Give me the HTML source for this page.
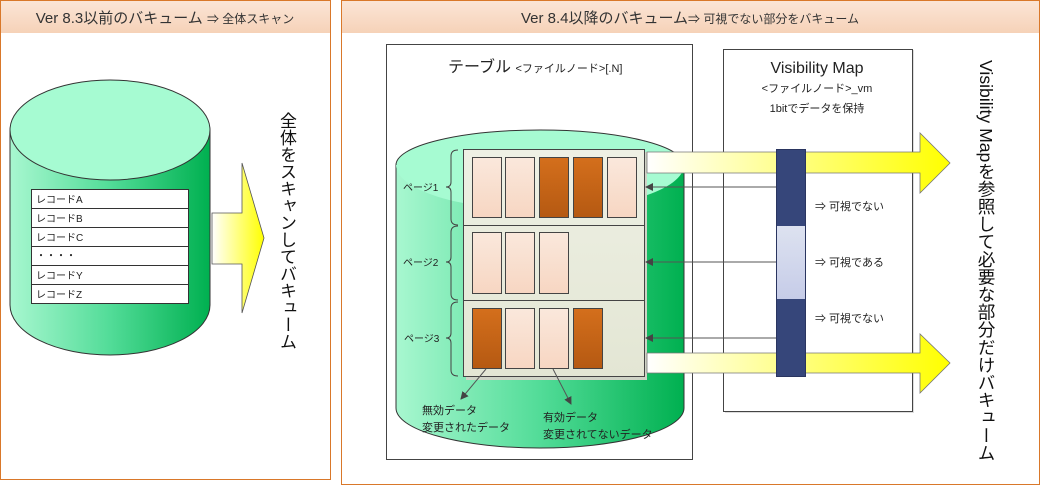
<!DOCTYPE html>
<html><head><meta charset="utf-8"><style>
body{margin:0;width:1047px;height:489px;background:#fff;position:relative;overflow:hidden;font-family:"Liberation Sans","Noto Sans CJK JP",sans-serif}
svg{position:absolute;left:0;top:0}
.v{position:absolute;writing-mode:vertical-rl;font-family:"Liberation Sans","Noto Sans CJK JP",sans-serif;color:#111;white-space:nowrap}
</style></head><body>
<svg width="1047" height="489" viewBox="0 0 1047 489" font-family="Liberation Sans, Noto Sans CJK JP, sans-serif">
<defs>
<linearGradient id="hd" x1="0" y1="0" x2="0" y2="1"><stop offset="0" stop-color="#fbe5d6"/><stop offset="1" stop-color="#f6d2b8"/></linearGradient>
<linearGradient id="cy" x1="0" y1="0" x2="1" y2="0"><stop offset="0" stop-color="#a8f7d0"/><stop offset="0.5" stop-color="#52dc98"/><stop offset="1" stop-color="#00b050"/></linearGradient>
<linearGradient id="ya" x1="0" y1="0" x2="1" y2="0"><stop offset="0" stop-color="#ffffff"/><stop offset="1" stop-color="#ffff00"/></linearGradient>
<linearGradient id="lc" x1="0" y1="0" x2="0" y2="1"><stop offset="0" stop-color="#fae8dc"/><stop offset="1" stop-color="#f7d6c2"/></linearGradient>
<linearGradient id="dc" x1="0" y1="0" x2="0" y2="1"><stop offset="0" stop-color="#d46f1c"/><stop offset="1" stop-color="#b55912"/></linearGradient>
<linearGradient id="pg" x1="0" y1="0" x2="0" y2="1"><stop offset="0" stop-color="#eef0e4"/><stop offset="1" stop-color="#e3e6d4"/></linearGradient>
<linearGradient id="lb" x1="0" y1="0" x2="0" y2="1"><stop offset="0" stop-color="#dde2f0"/><stop offset="1" stop-color="#c6cce8"/></linearGradient>
<marker id="ah" markerWidth="8" markerHeight="8" refX="7" refY="4" orient="auto" markerUnits="userSpaceOnUse"><path d="M0,0 L8,4 L0,8 Z" fill="#444"/></marker>
</defs>
<rect x="0.5" y="0.5" width="330" height="479" fill="#fff" stroke="#d9782a"/>
<rect x="1" y="1" width="329" height="32" fill="url(#hd)"/>
<text x="165" y="23" text-anchor="middle" font-size="15" fill="#333">Ver 8.3以前のバキューム <tspan font-size="12">⇒ 全体スキャン</tspan></text>
<path d="M10,130 L10,305 A100,50 0 0 0 210,305 L210,130 Z" fill="url(#cy)" stroke="#333"/>
<ellipse cx="110" cy="130" rx="100" ry="50" fill="#a6fbd2" stroke="#333"/>
<g font-size="10" fill="#222">
<rect x="31.5" y="189.5" width="157" height="114" fill="#fff" stroke="#333"/>
<line x1="31" y1="208.5" x2="188" y2="208.5" stroke="#333"/><line x1="31" y1="227.5" x2="188" y2="227.5" stroke="#333"/><line x1="31" y1="246.5" x2="188" y2="246.5" stroke="#333"/><line x1="31" y1="265.5" x2="188" y2="265.5" stroke="#333"/><line x1="31" y1="284.5" x2="188" y2="284.5" stroke="#333"/>
<text x="36" y="203">レコードA</text><text x="36" y="222">レコードB</text><text x="36" y="241">レコードC</text><text x="36" y="259">・・・・</text><text x="36" y="279">レコードY</text><text x="36" y="298">レコードZ</text>
</g>
<path d="M212,213 L242,213 L242,163 L264,238 L242,313 L242,264 L212,264 Z" fill="url(#ya)" stroke="#555" stroke-width="0.8"/>
<rect x="341.5" y="0.5" width="698" height="484" fill="#fff" stroke="#d9782a"/>
<rect x="342" y="1" width="697" height="32" fill="url(#hd)"/>
<text x="690" y="23" text-anchor="middle" font-size="15" fill="#333">Ver 8.4以降のバキューム<tspan font-size="12">⇒ 可視でない部分をバキューム</tspan></text>
<rect x="386.5" y="44.5" width="306" height="415" fill="#fff" stroke="#444"/>
<text x="448" y="72" font-size="16" fill="#222">テーブル <tspan font-size="11">&lt;ファイルノード&gt;[.N]</tspan></text>
<path d="M396,165 L396,408 A144,40 0 0 0 684,408 L684,165 Z" fill="url(#cy)" stroke="#333"/>
<path d="M396,165 A144,35 0 0 1 684,165 A144,45 0 0 1 396,165Z" fill="#a6fbd2"/>
<path d="M396,165 A144,35 0 0 1 684,165" fill="none" stroke="#333"/>
<rect x="725" y="50" width="189" height="363" fill="#ddd"/>
<rect x="723.5" y="49.5" width="189" height="362" fill="#fff" stroke="#444"/>
<text x="817" y="73" text-anchor="middle" font-size="16" fill="#222">Visibility Map</text>
<text x="817" y="92" text-anchor="middle" font-size="11" fill="#222">&lt;ファイルノード&gt;_vm</text>
<text x="817" y="112" text-anchor="middle" font-size="11" fill="#222">1bitでデータを保持</text>
<rect x="466" y="152" width="181" height="228" fill="#cfd3c6"/>
<rect x="463.5" y="149.5" width="181" height="227" fill="url(#pg)" stroke="#444"/>
<line x1="463" y1="225.5" x2="644" y2="225.5" stroke="#444"/><line x1="463" y1="300.5" x2="644" y2="300.5" stroke="#444"/>
<g stroke="#444">
<rect x="472.5" y="157.5" width="29" height="60" fill="url(#lc)"/><rect x="505.5" y="157.5" width="29" height="60" fill="url(#lc)"/><rect x="539.5" y="157.5" width="29" height="60" fill="url(#dc)"/><rect x="573.5" y="157.5" width="29" height="60" fill="url(#dc)"/><rect x="607.5" y="157.5" width="29" height="60" fill="url(#lc)"/>
<rect x="472.5" y="232.5" width="29" height="61" fill="url(#lc)"/><rect x="505.5" y="232.5" width="29" height="61" fill="url(#lc)"/><rect x="539.5" y="232.5" width="29" height="61" fill="url(#lc)"/>
<rect x="472.5" y="308.5" width="29" height="60" fill="url(#dc)"/><rect x="505.5" y="308.5" width="29" height="60" fill="url(#lc)"/><rect x="539.5" y="308.5" width="29" height="60" fill="url(#lc)"/><rect x="573.5" y="308.5" width="29" height="60" fill="url(#dc)"/>
</g>
<g fill="none" stroke="#444">
<path d="M458,150 Q451,150 451,156 L451,182 Q451,187 446,187 Q451,187 451,192 L451,219 Q451,225 458,225"/>
<path d="M458,226 Q451,226 451,232 L451,257 Q451,262 446,262 Q451,262 451,267 L451,294 Q451,300 458,300"/>
<path d="M458,302 Q451,302 451,308 L451,333 Q451,338 446,338 Q451,338 451,343 L451,370 Q451,376 458,376"/>
</g>
<g font-size="10" fill="#222"><text x="403" y="191">ページ1</text><text x="403" y="266">ページ2</text><text x="404" y="342">ページ3</text></g>
<line x1="486" y1="369" x2="461" y2="399" stroke="#555" marker-end="url(#ah)"/>
<line x1="553" y1="369" x2="571" y2="404" stroke="#555" marker-end="url(#ah)"/>
<g font-size="11" fill="#222"><text x="422" y="414">無効データ</text><text x="422" y="431">変更されたデータ</text><text x="543" y="421">有効データ</text><text x="543" y="438">変更されてないデータ</text></g>
<path d="M647,152 L920,152 L920,133 L950,163 L920,193 L920,173 L647,173 Z" fill="url(#ya)" stroke="#777" stroke-width="0.8"/>
<path d="M647,353 L920,353 L920,334 L950,363 L920,393 L920,373 L647,373 Z" fill="url(#ya)" stroke="#777" stroke-width="0.8"/>
<rect x="776.5" y="149.5" width="29" height="227" fill="#36467a" stroke="#2a3560"/>
<rect x="777" y="226" width="28" height="73" fill="url(#lb)"/>
<g stroke="#555"><line x1="776" y1="187" x2="646" y2="187" marker-end="url(#ah)"/><line x1="776" y1="262" x2="646" y2="262" marker-end="url(#ah)"/><line x1="776" y1="338" x2="646" y2="338" marker-end="url(#ah)"/></g>
<g font-size="11" fill="#222"><text x="815" y="210">⇒ 可視でない</text><text x="815" y="266">⇒ 可視である</text><text x="815" y="322">⇒ 可視でない</text></g>
</svg>
<div class="v" style="left:274px;top:112px;font-size:17px">全体をスキャンしてバキューム</div>
<div class="v" style="left:974px;top:60px;font-size:17.6px">Visibility Mapを参照して必要な部分だけバキューム</div>
</body></html>
